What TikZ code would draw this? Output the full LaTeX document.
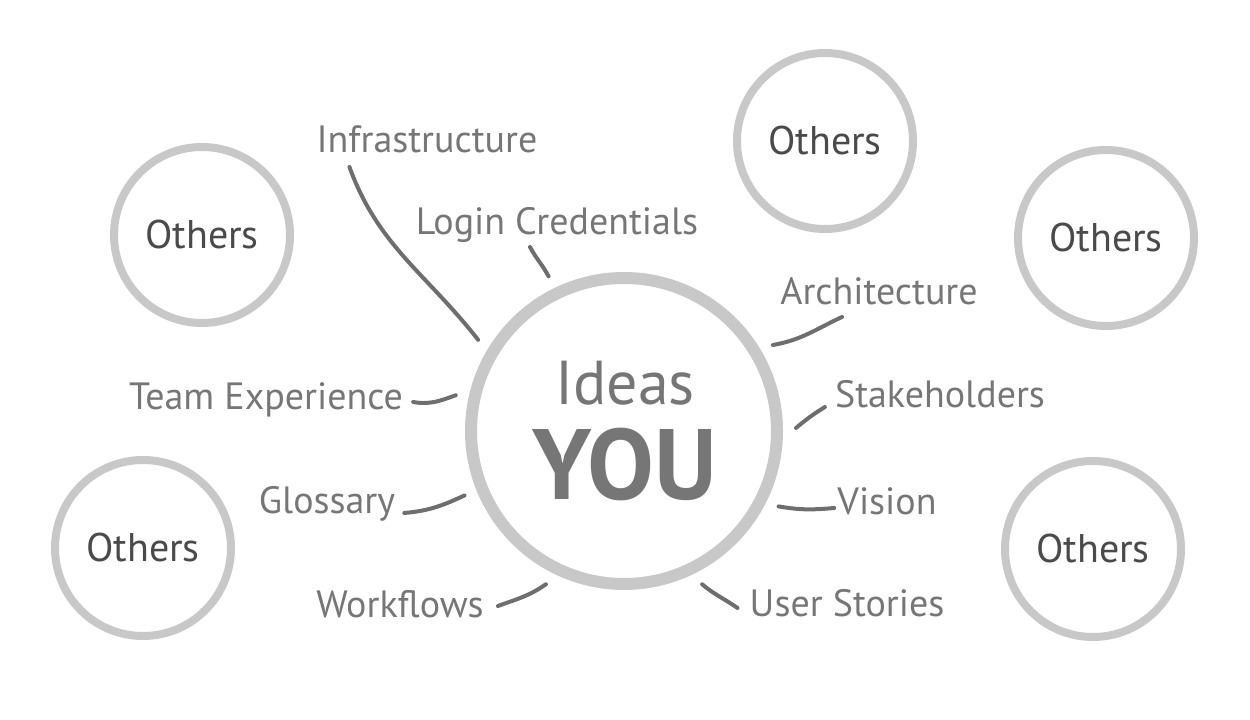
\documentclass[tikz,border=0pt]{standalone}
\usepackage{fontspec}
\setmainfont{PT Sans}
\usetikzlibrary{positioning}
\definecolor{ringgray}{HTML}{C8C8C8}
\definecolor{textgray}{HTML}{767676}
\definecolor{othergray}{HTML}{4A4A4A}
\definecolor{linkgray}{HTML}{6E6E6E}

\begin{document}
\begin{tikzpicture}[x=1pt, y=1pt,
    others/.style={circle, draw=ringgray, line width=8pt, minimum size=176pt, inner sep=0pt,
      font=\fontsize{40}{40}\selectfont, text=othergray},
    topic/.style={anchor=base, inner sep=0pt, font=\fontsize{38}{38}\selectfont, text=textgray},
    link/.style={draw=linkgray, line width=4pt, line cap=round}]
    \useasboundingbox (0,0) rectangle (1250,720);
    % centre
    \node[circle, draw=ringgray, line width=12pt, minimum size=306pt, outer sep=19pt] (you) at (624,289) {};
    \node[anchor=base, font=\fontsize{62}{62}\selectfont, text=textgray] (ideas) at (625,315) {Ideas};
    \node[anchor=base, font=\fontsize{100}{100}\selectfont\bfseries, text=textgray] (youtext) at (625,220) {YOU};
    % others
    \node[others] (others1) at (202,485) {Others};
    \node[others] (others2) at (825,579) {Others};
    \node[others] (others3) at (1106,482) {Others};
    \node[others] (others4) at (143,172) {Others};
    \node[others] (others5) at (1093,171) {Others};
    % topics
    \node[topic] (infra) at (427,567) {Infrastructure};
    \node[topic] (login) at (557,485) {Login Credentials};
    \node[topic] (arch) at (879,415) {Architecture};
    \node[topic] (stake) at (940,312) {Stakeholders};
    \node[topic] (vision) at (887,205) {Vision};
    \node[topic] (team) at (266,310) {Team Experience};
    \node[topic] (gloss) at (327,206) {Glossary};
    \node[topic] (work) at (400,102) {Workflows};
    \node[topic] (stories) at (847,103) {User Stories};
    % links
    \draw[link] ([shift={(33,-14)}]infra.base west) to[out=-70, in=128] (you.148);
    \draw[link] ([shift={(-27,-12)}]login.base) to[out=-62, in=118] (you.116);
    \draw[link] ([shift={(-37,-12)}]arch.base) to[out=205, in=10] (you.30);
    \draw[link] ([shift={(-10,1)}]stake.base west) to[out=212, in=40] (you.1);
    \draw[link] ([shift={(-3,7)}]vision.base west) to[out=185, in=-10] (you.-26);
    \draw[link] ([shift={(10,8)}]team.base east) to[out=-10, in=200] (you.168);
    \draw[link] ([shift={(9,1)}]gloss.base east) to[out=5, in=205] (you.202);
    \draw[link] ([shift={(14,12)}]work.base east) to[out=20, in=215] (you.243);
    \draw[link] ([shift={(-12,9)}]stories.base west) to[out=145, in=-40] (you.297);
\end{tikzpicture}
\end{document}
